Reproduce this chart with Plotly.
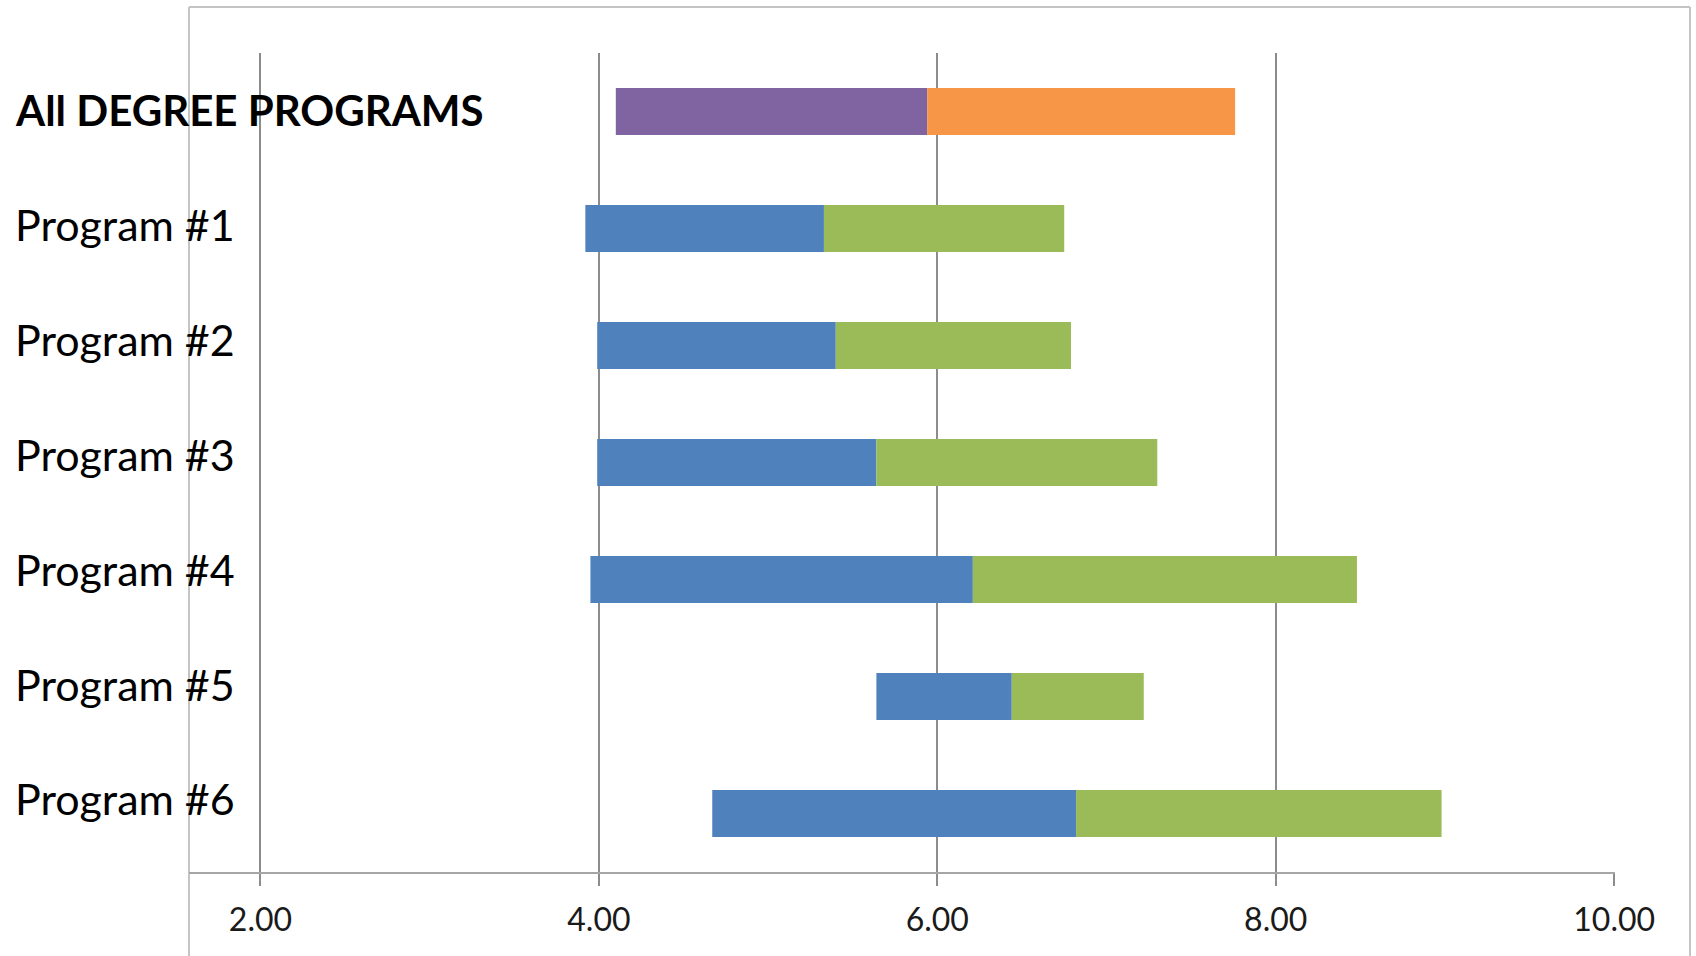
import plotly.graph_objects as go

# Program names, top to bottom
programs = ["All DEGREE PROGRAMS", "Program #1", "Program #2", "Program #3",
            "Program #4", "Program #5", "Program #6"]
# Range of each program: low end, middle, high end
low = [4.10, 3.92, 3.99, 3.99, 3.95, 5.64, 4.67]
mid = [5.94, 5.33, 5.40, 5.64, 6.21, 6.44, 6.82]
high = [7.76, 6.75, 6.79, 7.30, 8.48, 7.22, 8.98]
tick_values = [2, 4, 6, 8, 10]
tick_labels = ["2.00", "4.00", "6.00", "8.00", "10.00"]

lower_colors = ["#8064A2"] + ["#4F81BD"] * 6
upper_colors = ["#F79646"] + ["#9BBB59"] * 6

W, H = 1696, 956
L, R, T, B = 189, 81, 53, 84
pw = W - L - R
ph = H - T - B

fig = go.Figure()
fig.add_trace(go.Bar(
    y=programs, x=[m - lo for lo, m in zip(low, mid)], base=low,
    orientation="h", marker=dict(color=lower_colors, line=dict(width=0)),
    hoverinfo="skip", showlegend=False))
fig.add_trace(go.Bar(
    y=programs, x=[h - m for m, h in zip(mid, high)], base=mid,
    orientation="h", marker=dict(color=upper_colors, line=dict(width=0)),
    hoverinfo="skip", showlegend=False))

# Row labels: a text column left of the chart frame, on its own slightly tighter spacing
label_top, label_step = 110.0, 114.8
for i, name in enumerate(programs):
    py = label_top + i * label_step
    fig.add_annotation(
        x=(13 - L) / pw, xref="paper", xanchor="left",
        y=(H - B - py) / ph, yref="paper", yanchor="middle", showarrow=False,
        text=f"<b>{name}</b>" if i == 0 else name,
        font=dict(family="Lato", size=42 if i == 0 else 43, color="#000000"))

# Chart frame (left, top, right)
top = (H - B - 7) / ph
bottom = (H - B - 970) / ph
right = (1690 - L) / pw
frame = dict(color="#c4c4c4", width=2)
fig.add_shape(type="line", xref="paper", yref="paper", x0=0, x1=0, y0=bottom, y1=top, line=frame, layer="below")
fig.add_shape(type="line", xref="paper", yref="paper", x0=0, x1=right, y0=top, y1=top, line=frame, layer="below")
fig.add_shape(type="line", xref="paper", yref="paper", x0=right, x1=right, y0=bottom, y1=top, line=frame, layer="below")

fig.update_layout(
    width=W, height=H, margin=dict(l=L, r=R, t=T, b=B),
    paper_bgcolor="white", plot_bgcolor="white",
    barmode="overlay", bargap=0.6,
    xaxis=dict(range=[2 - (260.5 - L) / 169.3, 10.005],
               tickvals=tick_values, ticktext=tick_labels,
               showgrid=True, gridcolor="#8c8c8c", gridwidth=1.5,
               showline=True, linecolor="#a6a6a6", linewidth=2,
               ticks="outside", ticklen=12, tickwidth=1.5, tickcolor="#8c8c8c",
               ticklabelstandoff=7,
               tickfont=dict(family="Lato", size=32, color="#1a1a1a"),
               zeroline=False, fixedrange=True),
    yaxis=dict(categoryorder="array", categoryarray=programs, autorange="reversed",
               showticklabels=False, showgrid=False, zeroline=False,
               showline=False, ticks="", fixedrange=True),
)

fig.write_html("out.html")
